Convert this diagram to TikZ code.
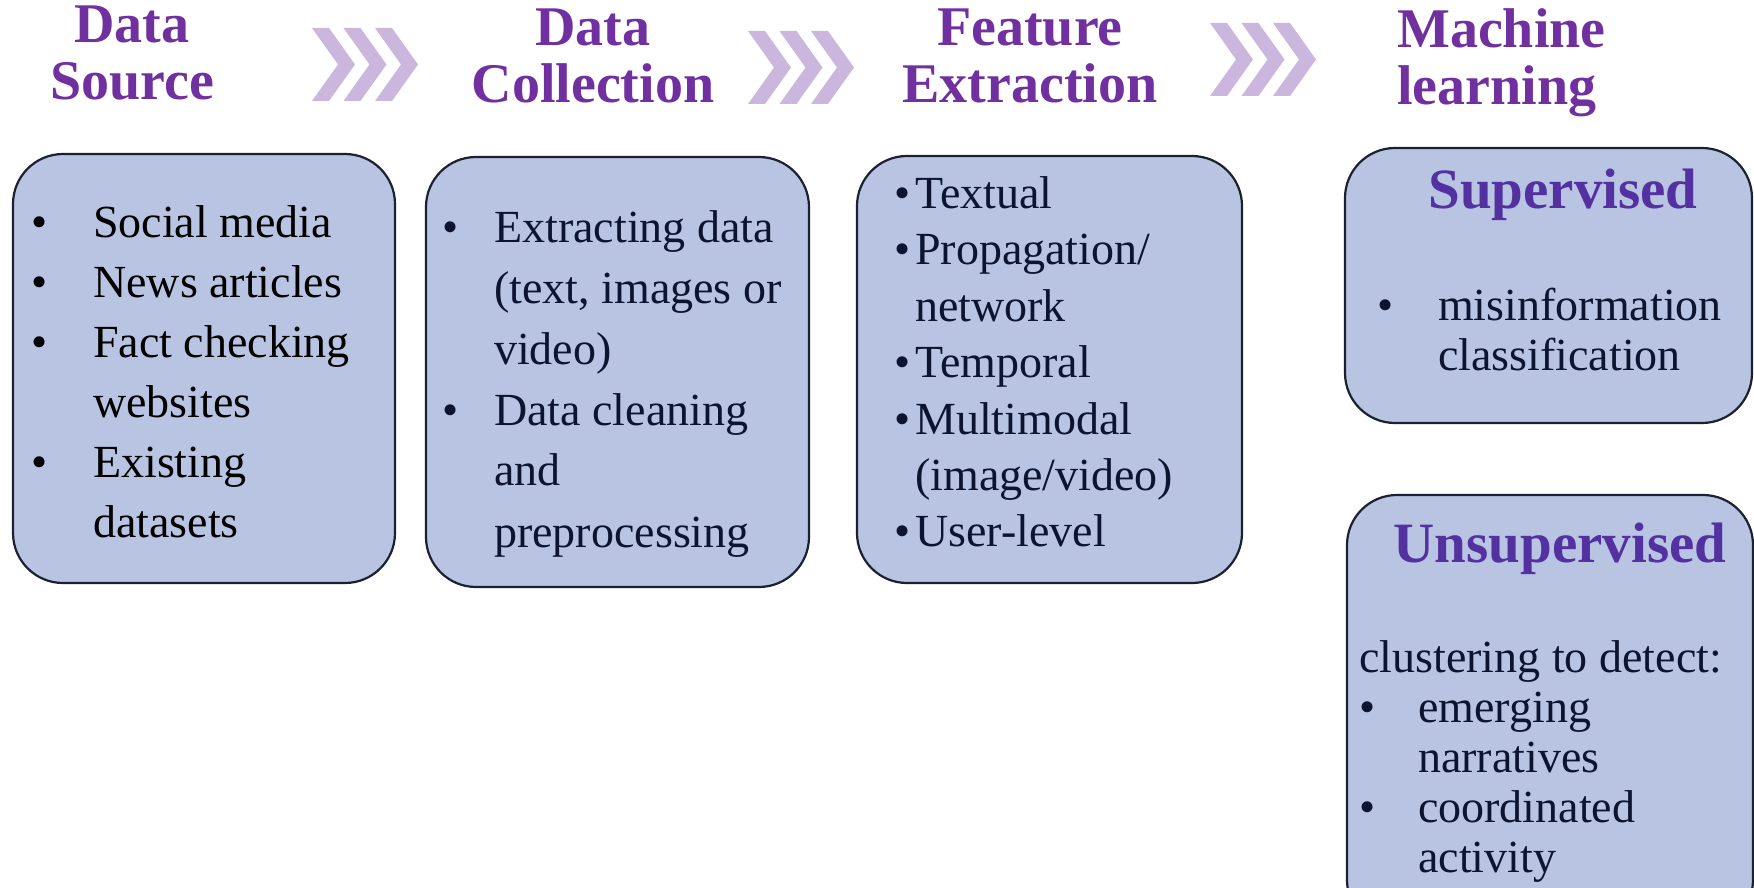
\documentclass[tikz,border=0pt]{standalone}
\usepackage{fontspec}
\setmainfont{Liberation Serif}
\usetikzlibrary{positioning}
\definecolor{HeadPurple}{HTML}{7030A0}
\definecolor{SubPurple}{HTML}{5331A0}
\definecolor{BoxBlue}{HTML}{B8C4E1}
\definecolor{BoxEdge}{HTML}{1A2130}
\definecolor{InkNavy}{HTML}{0C1430}
\definecolor{ChevLilac}{HTML}{CBB6DD}

\begin{document}
\begin{tikzpicture}[
    x=1pt, y=-1pt,
    stage/.style={font=\fontsize{56}{57}\selectfont\bfseries, text=HeadPurple,
                  inner sep=0pt, anchor=base},
    panel/.style={draw=BoxEdge, line width=2.2pt, fill=BoxBlue,
                  rounded corners=50pt, inner sep=0pt},
    items/.style={font=\fontsize{46}{#1}\selectfont, text=InkNavy,
                  inner sep=0pt, anchor=base west},
    sub/.style={font=\fontsize{57}{57}\selectfont\bfseries, text=SubPurple,
                inner sep=0pt, anchor=base},
  ]
    \useasboundingbox (0,0) rectangle (1754,888);
    \clip (0,0) rectangle (1754,888);

    % ── Stage titles ─────────────────────────────────────────────────────
    \node[stage] (tSrc) at (132,43)
      {\begin{tabular}[t]{@{}c@{}}Data\\Source\end{tabular}};
    \node[stage] (tCol) at (593,46)
      {\begin{tabular}[t]{@{}c@{}}Data\\Collection\end{tabular}};
    \node[stage] (tFeat) at (1030,46)
      {\begin{tabular}[t]{@{}c@{}}Feature\\Extraction\end{tabular}};
    \node[stage, anchor=base west] (tML) at (1397,48)
      {\begin{tabular}[t]{@{}l@{}}Machine\\learning\end{tabular}};

    % ── Chevrons between the titles ──────────────────────────────────────
    \foreach \gx/\gy in {312/28, 748/31, 1210/23}
      \foreach \k in {0,1,2}
        \fill[ChevLilac] ({\gx+31.5*\k},\gy) -- ++(17,0) -- ++(26,36.5)
          -- ++(-26,36.5) -- ++(-17,0) -- ++(26,-36.5) -- cycle;

    % ── Panels ───────────────────────────────────────────────────────────
    \node[panel, minimum width=382pt, minimum height=429pt] (src)  at (204,368.5)  {};
    \node[panel, minimum width=383pt, minimum height=430pt] (col)  at (617.5,372)  {};
    \node[panel, minimum width=385pt, minimum height=427pt] (feat) at (1049.5,369.5) {};
    \node[panel, minimum width=407pt, minimum height=275pt] (sup)  at (1548.5,285.5) {};
    \node[panel, minimum width=406pt, minimum height=435pt] (uns)  at (1550,712.5) {};

    % ── Panel contents ───────────────────────────────────────────────────
    \node[items=60, text=black] (srcL) at (31,237)
      {\begin{tabular}[t]{@{}p{62pt}@{}l@{}}
        \textbullet & Social media\\
        \textbullet & News articles\\
        \textbullet & Fact checking\\
                    & websites\\
        \textbullet & Existing\\
                    & datasets
       \end{tabular}};

    \node[items=61] (colL) at (442,242)
      {\begin{tabular}[t]{@{}p{52pt}@{}l@{}}
        \textbullet & Extracting data\\
                    & (text, images or\\
                    & video)\\
        \textbullet & Data cleaning\\
                    & and\\
                    & preprocessing
       \end{tabular}};

    \node[items=56.5] (featL) at (894,208)
      {\begin{tabular}[t]{@{}p{21pt}@{}l@{}}
        \textbullet & Textual\\
        \textbullet & Propagation/\\
                    & network\\
        \textbullet & Temporal\\
        \textbullet & Multimodal\\
                    & (image/video)\\
        \textbullet & User-level
       \end{tabular}};

    \node[sub] (supT) at (1563,208) {Supervised};
    \node[items=50] (supL) at (1377,320)
      {\begin{tabular}[t]{@{}p{61pt}@{}l@{}}
        \textbullet & misinformation\\
                    & classification
       \end{tabular}};

    \node[sub] (unsT) at (1560,562) {Unsupervised};
    \node[items=50] (unsL) at (1359,672)
      {\begin{tabular}[t]{@{}p{59pt}@{}l@{}}
        \multicolumn{2}{@{}l@{}}{clustering to detect:}\\
        \textbullet & emerging\\
                    & narratives\\
        \textbullet & coordinated\\
                    & activity
       \end{tabular}};
  \end{tikzpicture}
\end{document}
